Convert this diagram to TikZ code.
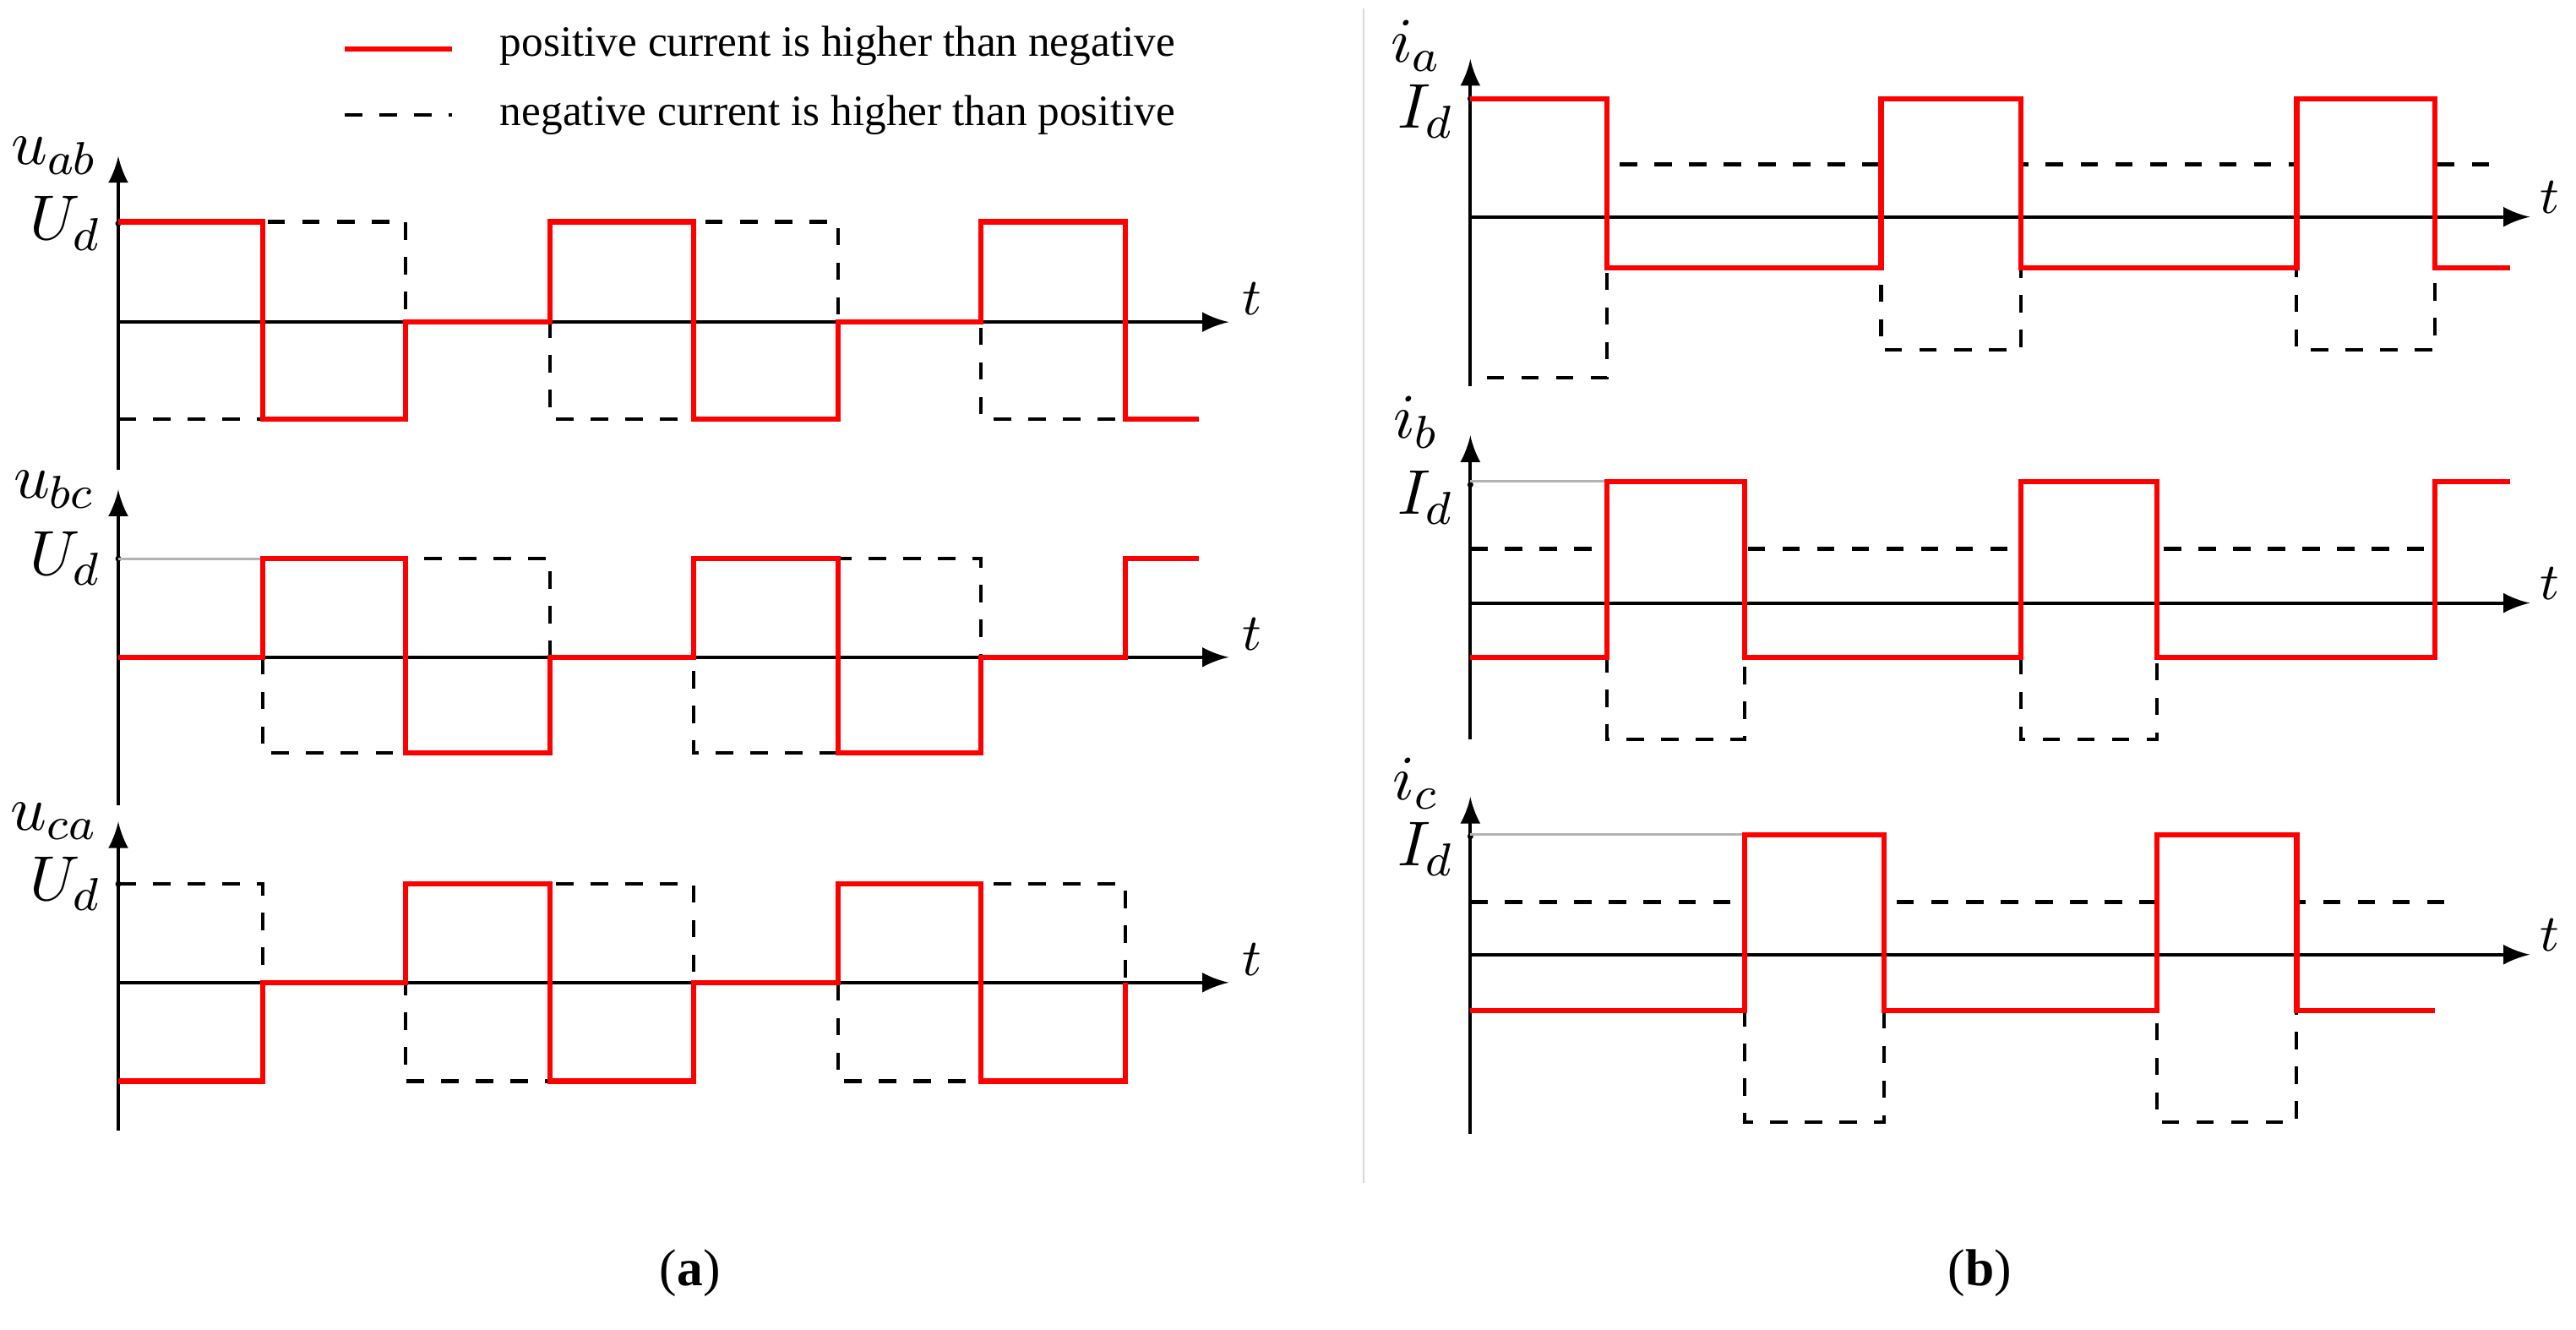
\documentclass[tikz,border=0pt]{standalone}
\usepackage{fontspec}
\setmainfont{Liberation Serif}
\usetikzlibrary{calc}
\begin{document}
\begin{tikzpicture}[x=0.01cm,y=-0.01cm]
    \tikzstyle{poswave}=[red, line width=0.9pt];
    \tikzstyle{negwave}=[black, dashed, line width=0.6pt];
    \tikzstyle{ax}=[black, line width=0.6pt, -latex];
    \tikzstyle{lbl}=[font=\fontsize{9}{9}\selectfont];
    \tikzstyle{big}=[font=\fontsize{11}{11}\selectfont];
    \useasboundingbox (0,0) rectangle (1568,809);
    \draw[gray!30] (830,5) -- (830,720);

    % legend
    \draw[poswave] (210,30) -- (275,30);
    \node[anchor=west, font=\fontsize{7.5}{7.5}\selectfont] at (292,28) {positive current is higher than negative};
    \draw[negwave] (210,70) -- (275,70);
    \node[anchor=west, font=\fontsize{7.5}{7.5}\selectfont] at (292,70) {negative current is higher than positive};

    % (a) axes
    \foreach \z/\top/\name in {196/95/ab, 400/298/bc, 598/500/ca}{
        \draw[ax] (72,\z+90) -- (72,\top);
        \draw[ax] (72,\z) -- (748,\z);
        \node[lbl] at (762,\z-14) {$t$};
        \node[big] at (33,\top) {$u_{\name}$};
        \node[big] at (40,\z-60) {$U_d$};
        \fill (72,\z-60) circle (1.8);
    }
    % u_ab
    \draw[negwave] (72,255) -| (160,135) -| (247,196) -| (335,255) -| (422,135) -| (510,196) -| (597,255) -| (685,135);
    \draw[poswave] (72,135) -| (160,255) -| (247,196) -| (335,135) -| (422,255) -| (510,196) -| (597,135) -| (685,255) -- (730,255);
    % u_bc
    \draw[gray!60] (72,340) -- (160,340);
    \draw[negwave] (160,400) -- (160,458) -| (247,340) -| (335,400) -| (422,458) -| (510,340) -| (597,400);
    \draw[poswave] (72,400) -| (160,340) -| (247,458) -| (335,400) -| (422,340) -| (510,458) -| (597,400) -| (685,340) -- (730,340);
    % u_ca
    \draw[negwave] (72,538) -| (160,598) -| (247,658) -| (335,538) -| (422,598) -| (510,658) -| (597,538) -| (685,598);
    \draw[poswave] (72,658) -| (160,598) -| (247,538) -| (335,658) -| (422,598) -| (510,538) -| (597,658) -| (685,598);

    % (b) axes
    \foreach \z/\top/\bot/\name in {132/36/235/a, 367/265/450/b, 581/485/690/c}{
        \draw[ax] (895,\bot) -- (895,\top);
        \draw[ax] (895,\z) -- (1540,\z);
        \node[lbl] at (1552,\z-12) {$t$};
        \node[big] at (862,\top-8) {$i_{\name}$};
        \node[big] at (868,\z-64) {$I_d$};
        \fill (895,\z-72) circle (1.8);
    }
    % i_a
    \draw[negwave] (905,230) -| (978,100) -| (1145,213) -| (1230,100) -| (1398,213) -| (1482,100) -- (1518,100);
    \draw[poswave] (895,60) -| (978,163) -| (1145,60) -| (1230,163) -| (1398,60) -| (1482,163) -- (1528,163);
    % i_b
    \draw[gray!60] (895,293) -- (978,293);
    \draw[negwave] (895,334) -| (978,450) -| (1062,334) -| (1230,450) -| (1313,334) -- (1482,334);
    \draw[poswave] (895,400) -| (978,293) -| (1062,400) -| (1230,293) -| (1313,400) -| (1482,293) -- (1528,293);
    % i_c
    \draw[gray!60] (895,508) -- (1062,508);
    \draw[negwave] (895,549) -| (1062,683) -| (1147,549) -| (1313,683) -| (1398,549) -- (1492,549);
    \draw[poswave] (895,615) -| (1062,508) -| (1147,615) -| (1313,508) -| (1398,615) -- (1482,615);

    % captions
    \node[font=\fontsize{9}{9}\selectfont] at (420,775) {(\textbf{a})};
    \node[font=\fontsize{9}{9}\selectfont] at (1205,775) {(\textbf{b})};
\end{tikzpicture}
\end{document}
